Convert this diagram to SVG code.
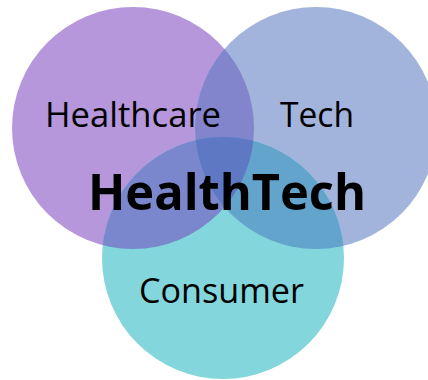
<svg xmlns="http://www.w3.org/2000/svg" width="428" height="380" viewBox="0 0 428 380">
<style>
.lbl{font-family:"Open Sans","Noto Sans","Liberation Sans",sans-serif;fill:#000;text-anchor:middle}
.sm{font-size:34px}
.big{font-size:51px;font-weight:bold}
</style>
<defs>
<clipPath id="cH"><circle cx="133" cy="128" r="121"/></clipPath>
<clipPath id="cT"><circle cx="316" cy="128" r="121"/></clipPath>
<clipPath id="cC"><circle cx="223" cy="258" r="121"/></clipPath>
</defs>
<rect width="428" height="380" fill="#fff"/>
<g id="healthcare">
<circle cx="133" cy="128" r="121" fill="#b697dc"/>
</g>
<g id="tech">
<circle cx="316" cy="128" r="121" fill="#a2b3dc"/>
</g>
<g id="consumer">
<circle cx="223" cy="258" r="121" fill="#83d7dc"/>
</g>
<g id="overlaps">
<g clip-path="url(#cH)"><circle cx="316" cy="128" r="121" fill="#8285cc"/><circle cx="223" cy="258" r="121" fill="#7b87cc"/></g>
<g clip-path="url(#cT)"><circle cx="223" cy="258" r="121" fill="#62a4cc"/></g>
<g clip-path="url(#cH)"><g clip-path="url(#cT)"><circle cx="223" cy="258" r="121" fill="#5e78c4"/></g></g>
</g>
<g id="labels">
<text class="lbl sm" x="133" y="127" textLength="176" lengthAdjust="spacingAndGlyphs">Healthcare</text>
<text class="lbl sm" x="317" y="127" textLength="74" lengthAdjust="spacingAndGlyphs">Tech</text>
<text class="lbl big" x="227" y="210" textLength="278" lengthAdjust="spacingAndGlyphs">HealthTech</text>
<text class="lbl sm" x="221.5" y="303" textLength="165" lengthAdjust="spacingAndGlyphs">Consumer</text>
</g>
</svg>
